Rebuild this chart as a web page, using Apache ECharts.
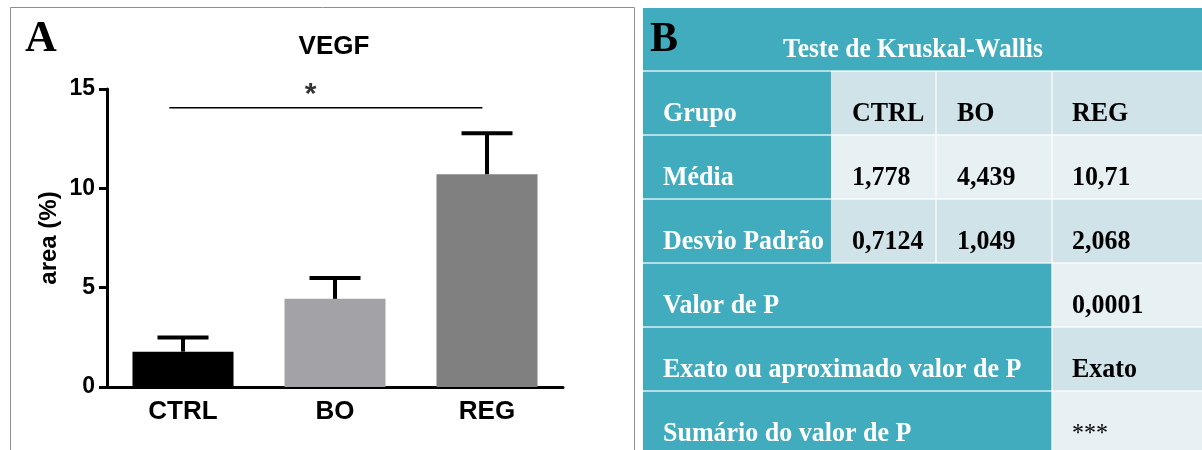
<!DOCTYPE html>
<html>
<head>
<meta charset="utf-8">
<title>VEGF</title>
<script src="https://cdn.jsdelivr.net/npm/echarts@6/dist/echarts.min.js"></script>
<style>
  html, body { margin: 0; padding: 0; background: #fff; }
  #main { width: 1202px; height: 450px; }
</style>
</head>
<body>
<div id="main"></div>
<script>
// painel A - VEGF
var groups = ['CTRL', 'BO', 'REG'];
var means = [1.778, 4.439, 10.71];
var sds = [0.7124, 1.049, 2.068];
var barColors = ['#000000', '#a3a3a7', '#808080'];
var yMin = 0, yMax = 15, yStep = 5;
// barra de significancia CTRL x REG
var sigSpan = [-0.09, 1.97];
var sigLevel = 14.05;
var sigMark = '*';
var sigMarkAt = 0.84;

// painel B - tabela
var tableTitle = 'Teste de Kruskal-Wallis';
var rowNames = ['Grupo', 'Média', 'Desvio Padrão'];
var pRowNames = ['Valor de P', 'Exato ou aproximado valor de P', 'Sumário do valor de P'];
var pRowValues = ['0,0001', 'Exato', '***'];

function fmt(v) { return String(v).replace('.', ','); }

var TEAL = '#41acbd';
var LIGHT1 = '#d0e3e8';
var LIGHT2 = '#e7f0f3';
var colX = [643, 831, 936, 1052, 1202];
var rowY = [8, 71, 135, 199, 263, 327, 391, 455];
var serif = 'Liberation Serif, Times New Roman, serif';
var sans = 'Liberation Sans, Arial, sans-serif';

// texto com leve esticada vertical, como na figura original
function txt(x, y, s, opt) {
  opt = opt || {};
  return {
    type: 'text', x: x, y: y, silent: true, z: 10, scaleY: opt.scaleY || 1.04,
    style: {
      text: s,
      fill: opt.color || '#000',
      font: (opt.weight || 'bold') + ' ' + (opt.size || 26) + 'px ' + (opt.family || serif),
      align: opt.align || 'left', textAlign: opt.align || 'left',
      verticalAlign: 'middle', textVerticalAlign: 'middle'
    }
  };
}
function rect(x1, y1, x2, y2, color) {
  return { type: 'rect', silent: true, z: 1, shape: { x: x1, y: y1, width: x2 - x1, height: y2 - y1 }, style: { fill: color } };
}
function line(x1, y1, x2, y2) {
  return { type: 'line', silent: true, z: 5, shape: { x1: x1, y1: y1, x2: x2, y2: y2 }, style: { stroke: 'rgba(255,255,255,0.6)', lineWidth: 2 } };
}

var graphics = [];
// moldura do painel A
graphics.push({ type: 'rect', silent: true, shape: { x: 10.5, y: 7.5, width: 624, height: 470 }, style: { fill: 'none', stroke: '#8f8f8f', lineWidth: 1 } });
graphics.push(txt(25, 40, 'A', { size: 44, scaleY: 1 }));

// tabela
graphics.push(rect(colX[0], rowY[0], colX[4], rowY[7], TEAL));
var header = [groups, means.map(fmt), sds.map(fmt)];
var cx = [852, 957, 1072];
for (var r = 0; r < 3; r++) {
  var shade = r % 2 === 0 ? LIGHT1 : LIGHT2;
  graphics.push(rect(colX[1], rowY[r + 1], colX[4], rowY[r + 2], shade));
  graphics.push(txt(663, rowY[r + 1] + 43, rowNames[r], { color: '#fff' }));
  for (var c = 0; c < 3; c++) {
    graphics.push(txt(cx[c], rowY[r + 1] + 43, header[r][c]));
  }
}
for (var k = 0; k < 3; k++) {
  var shade2 = k % 2 === 0 ? LIGHT2 : LIGHT1;
  graphics.push(rect(colX[3], rowY[k + 4], colX[4], rowY[k + 5], shade2));
  graphics.push(txt(663, rowY[k + 4] + 43, pRowNames[k], { color: '#fff' }));
  var isStars = pRowValues[k] === '***';
  graphics.push(txt(1072, rowY[k + 4] + 43, pRowValues[k], isStars ? { weight: 'normal', size: 24 } : {}));
}
for (var h = 1; h < 7; h++) graphics.push(line(colX[0], rowY[h], colX[4], rowY[h]));
graphics.push(line(colX[2], rowY[1], colX[2], rowY[4]));
graphics.push(line(colX[3], rowY[1], colX[3], rowY[7]));
graphics.push(txt(913, 50, tableTitle, { color: '#fff', align: 'center', size: 25.5 }));
graphics.push(txt(650, 40, 'B', { size: 42, scaleY: 1 }));

var chart = echarts.init(document.getElementById('main'));
var option = {
  animation: false,
  backgroundColor: '#fff',
  title: {
    text: 'VEGF', left: 334, top: 34, textAlign: 'center', padding: 0,
    textStyle: { fontSize: 26, fontWeight: 'bold', fontFamily: sans, color: '#000' }
  },
  grid: { left: 107, top: 89, right: 639, bottom: 63 },
  xAxis: [{
    type: 'category',
    data: groups,
    axisLine: { onZero: false, lineStyle: { color: '#000', width: 3 } },
    axisTick: { alignWithLabel: true, length: 7, lineStyle: { color: '#000', width: 3 } },
    axisLabel: { color: '#000', fontSize: 26, fontWeight: 'bold', fontFamily: sans, margin: 12 }
  }, {
    type: 'value', min: -0.5, max: 2.5, show: false
  }],
  yAxis: {
    type: 'value', min: yMin, max: yMax, interval: yStep,
    name: 'area (%)', nameLocation: 'middle', nameRotate: 90, nameGap: 46,
    nameTextStyle: { color: '#000', fontSize: 24, fontWeight: 'bold', fontFamily: sans },
    axisLine: { show: true, onZero: false, lineStyle: { color: '#000', width: 3 } },
    axisTick: { show: true, length: 8, lineStyle: { color: '#000', width: 3 } },
    axisLabel: { color: '#000', fontSize: 23, fontWeight: 'bold', fontFamily: sans, margin: 12 },
    splitLine: { show: false }
  },
  graphic: graphics,
  series: [{
    type: 'bar',
    barWidth: 101,
    data: means.map(function (v, i) { return { value: v, itemStyle: { color: barColors[i] } }; }),
    z: 2
  }, {
    type: 'custom',
    data: means.map(function (v, i) { return [i, v, v + sds[i]]; }),
    renderItem: function (params, api) {
      var base = api.coord([api.value(0), api.value(1)]);
      var top = api.coord([api.value(0), api.value(2)]);
      return {
        type: 'group',
        children: [
          { type: 'line', shape: { x1: base[0], y1: base[1], x2: top[0], y2: top[1] }, style: { stroke: '#000', lineWidth: 4 } },
          { type: 'line', shape: { x1: top[0] - 25.5, y1: top[1], x2: top[0] + 25.5, y2: top[1] }, style: { stroke: '#000', lineWidth: 4 } }
        ]
      };
    },
    z: 3
  }, {
    type: 'line',
    xAxisIndex: 1,
    data: [[sigSpan[0], sigLevel], [sigSpan[1], sigLevel]],
    symbol: 'none',
    lineStyle: { color: '#000', width: 1.5 },
    silent: true
  }, {
    type: 'scatter',
    xAxisIndex: 1,
    data: [[sigMarkAt, sigLevel]],
    symbolSize: 0,
    silent: true,
    label: { show: true, formatter: sigMark, position: 'top', distance: -2, fontSize: 30, fontWeight: 'bold', fontFamily: sans, color: '#000' }
  }]
};
chart.setOption(option);
</script>
</body>
</html>
